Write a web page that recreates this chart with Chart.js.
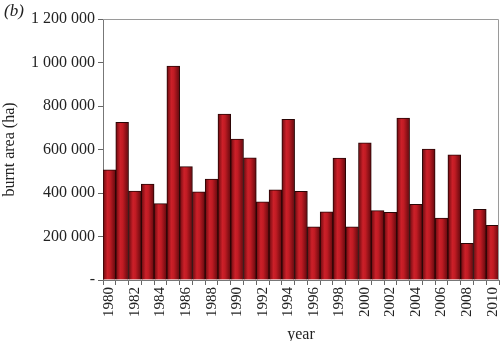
<!DOCTYPE html>
<html>
<head>
<meta charset="utf-8">
<script src="https://cdn.jsdelivr.net/npm/chart.js@4/dist/chart.umd.min.js"></script>
<style>
  html, body { margin: 0; padding: 0; background: #fff; }
  #wrap { position: relative; width: 500px; height: 341px; }
  #panel { position: absolute; left: 4px; top: 1px; font: italic 17px "Liberation Serif", serif; color: #222; }
</style>
</head>
<body>
<div id="wrap">
  <canvas id="burntChart" width="500" height="341"></canvas>
  <div id="panel">(b)</div>
</div>
<script>
// années et surfaces brûlées (ha)
const years = [1980, 1981, 1982, 1983, 1984, 1985, 1986, 1987, 1988, 1989,
               1990, 1991, 1992, 1993, 1994, 1995, 1996, 1997, 1998, 1999,
               2000, 2001, 2002, 2003, 2004, 2005, 2006, 2007, 2008, 2009, 2010];
const burntArea = [507000, 725000, 409000, 441000, 351000, 984000, 521000, 405000, 464000, 763000,
                   648000, 562000, 359000, 415000, 739000, 408000, 245000, 314000, 561000, 245000,
                   631000, 319000, 311000, 745000, 348000, 602000, 285000, 576000, 169000, 325000, 251000];
const yTicks = [0, 200000, 400000, 600000, 800000, 1000000, 1200000];

const serif = '"Liberation Serif", "DejaVu Serif", serif';

function fmt(v) {
    if (v === 0) return '-';
    return String(v).replace(/\B(?=(\d{3})+(?!\d))/g, ' ');
}

// dégradé "cylindre" sur chaque barre + cadre gris
const barShading = {
    id: 'barShading',
    beforeDatasetsDraw(chart) {
        const ctx = chart.ctx;
        chart.getDatasetMeta(0).data.forEach(bar => {
            const x0 = bar.x - bar.width / 2;
            const g = ctx.createLinearGradient(x0, 0, x0 + bar.width, 0);
            g.addColorStop(0, '#6a0a0f');
            g.addColorStop(0.35, '#cc2029');
            g.addColorStop(0.55, '#c01b23');
            g.addColorStop(1, '#62090e');
            bar.options.backgroundColor = g;
        });
    },
    afterDraw(chart) {
        const a = chart.chartArea;
        const ctx = chart.ctx;
        ctx.save();
        ctx.strokeStyle = '#9a9a9a';
        ctx.lineWidth = 1;
        ctx.beginPath();
        ctx.moveTo(a.left, a.top + 0.5);
        ctx.lineTo(a.right - 0.5, a.top + 0.5);
        ctx.lineTo(a.right - 0.5, a.bottom);
        ctx.stroke();
        ctx.restore();
    }
};

document.addEventListener('DOMContentLoaded', function() {
    const ctx = document.getElementById('burntChart');
    new Chart(ctx, {
        type: 'bar',
        data: {
            labels: years,
            datasets: [{
                data: burntArea,
                backgroundColor: () => '#b81b22',
                borderColor: '#2a0505',
                borderWidth: 1,
                barPercentage: 1,
                categoryPercentage: 1
            }]
        },
        options: {
            responsive: false,
            animation: false,
            layout: { padding: { top: 19, right: 1, left: 0, bottom: 0 } },
            plugins: {
                legend: { display: false },
                tooltip: { enabled: false }
            },
            scales: {
                x: {
                    grid: { display: true, drawOnChartArea: false, tickLength: 5, color: '#666', offset: true },
                    border: { color: '#777' },
                    ticks: {
                        autoSkip: false,
                        minRotation: 90,
                        maxRotation: 90,
                        padding: 2,
                        color: '#222',
                        font: { family: serif, size: 15 },
                        callback: function(value, index) {
                            return index % 2 === 0 ? String(years[index]) : '';
                        }
                    },
                    title: {
                        display: true,
                        text: 'year',
                        color: '#222',
                        font: { family: serif, size: 16 },
                        padding: { top: 0, bottom: -3 }
                    },
                    afterFit: scale => {
                        scale.height = 61;
                        scale.paddingLeft = 0;
                        scale.paddingRight = 0;
                    }
                },
                y: {
                    min: 0,
                    max: 1200000,
                    afterBuildTicks: scale => { scale.ticks = yTicks.map(v => ({ value: v })); },
                    grid: { display: true, drawOnChartArea: false, tickLength: 5, color: '#666' },
                    border: { color: '#777' },
                    ticks: {
                        padding: 3,
                        color: '#222',
                        font: { family: serif, size: 16 },
                        callback: v => fmt(v)
                    },
                    title: {
                        display: true,
                        text: 'burnt area (ha)',
                        color: '#222',
                        font: { family: serif, size: 16 },
                        padding: { top: 0, bottom: 0 }
                    },
                    afterFit: scale => { scale.width = 103; }
                }
            }
        },
        plugins: [barShading]
    });
});
</script>
</body>
</html>
